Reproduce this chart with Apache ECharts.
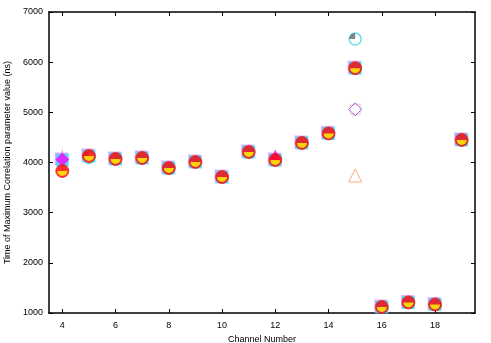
<!DOCTYPE html>
<html><head><meta charset="utf-8">
<script src="https://cdn.jsdelivr.net/npm/echarts@6/dist/echarts.min.js"></script>
<style>html,body{margin:0;padding:0;background:#fff}#c{width:491px;height:343px}</style>
</head><body><div id="c"></div>
<script>
// Data
const channels = [4,5,6,7,8,9,10,11,12,13,14,15,16,17,18,19];
const mainValues = [3830,4130,4070,4090,3890,4010,3710,4210,4050,4390,4580,5880,1120,1210,1170,4450];
const squareValues = [4050,4130,4070,4090,3890,4010,3710,4210,4050,4390,4580,5880,1120,1210,1170,4450];
const grayPoints = [[5,4100],[15,6460]];
const diamondPoints = [[4,4060]];
const trianglePoints = [[12,4140]];
const openDiamondPoints = [[15,5060]];
const openTrianglePoints = [[15,3740]];
const errorBars = [[4,3720,4250]];
const xTicks = [4,6,8,10,12,14,16,18];
const yTicks = [1000,2000,3000,4000,5000,6000,7000];

const pts = (vals) => channels.map((c,i)=>[c,vals[i]]);
const font = 'Liberation Sans';
const halfPath = 'path://M0,0 L20,0 A10,10 0 0 1 0,0 Z';
const quarterPath = 'path://M10,0 A10,10 0 0 0 0,10 L10,10 Z';

const chart = echarts.init(document.getElementById('c'), null, {renderer:'canvas'});
const axisLine = {show:true,onZero:false,lineStyle:{color:'#000',width:1.5}};
const tickStyle = {color:'#000',width:1};
chart.setOption({
  animation:false,
  grid:{left:49,right:16,top:12,bottom:30,containLabel:false,outerBoundsMode:'none'},
  xAxis:[
    {type:'value',min:3.5,max:19.5,position:'bottom',
      name:'Channel Number',nameLocation:'middle',nameGap:17,
      nameTextStyle:{fontFamily:font,fontSize:9,color:'#000'},
      axisLine:axisLine,splitLine:{show:false},
      axisLabel:{fontFamily:font,fontSize:9,color:'#000',margin:8,customValues:xTicks},
      axisTick:{show:true,inside:true,length:4,customValues:xTicks,lineStyle:tickStyle}},
    {type:'value',min:3.5,max:19.5,position:'top',
      axisLine:axisLine,axisLabel:{show:false},splitLine:{show:false},
      axisTick:{show:true,inside:true,length:4,customValues:xTicks,lineStyle:tickStyle}}
  ],
  yAxis:[
    {type:'value',min:1000,max:7000,position:'left',
      name:'Time of Maximum Correlation parameter value (ns)',nameLocation:'middle',nameGap:31,
      nameTextStyle:{fontFamily:font,fontSize:9,color:'#000'},
      axisLine:axisLine,splitLine:{show:false},
      axisLabel:{fontFamily:font,fontSize:9,color:'#000',margin:6,customValues:yTicks,formatter:v=>String(v)},
      axisTick:{show:true,inside:true,length:4,customValues:yTicks,lineStyle:tickStyle}},
    {type:'value',min:1000,max:7000,position:'right',
      axisLine:axisLine,axisLabel:{show:false},splitLine:{show:false},
      axisTick:{show:true,inside:true,length:4,customValues:yTicks,lineStyle:tickStyle}}
  ],
  series:[
    {type:'custom',renderItem:function(params,api){
        const p1=api.coord([api.value(0),api.value(1)]);
        const p2=api.coord([api.value(0),api.value(2)]);
        return {type:'line',shape:{x1:p1[0],y1:p1[1],x2:p2[0],y2:p2[1]},style:{stroke:'#ff88cc',lineWidth:1}};
      },data:errorBars,z:1},
    {type:'scatter',data:pts(squareValues),symbol:'rect',symbolSize:13,symbolOffset:[-1,-1],
      itemStyle:{color:'#ee99ff'},z:2},
    {type:'scatter',data:pts(squareValues),symbol:'rect',symbolSize:13,
      itemStyle:{color:'#33ddff'},z:3},
    {type:'scatter',data:grayPoints,symbol:'circle',symbolSize:12,
      itemStyle:{color:'#fff',borderColor:'#44d4dd',borderWidth:1.5},z:4},
    {type:'scatter',data:grayPoints,symbol:quarterPath,symbolSize:6,symbolOffset:[-3,-3],
      itemStyle:{color:'#666'},z:5},
    {type:'scatter',data:diamondPoints,symbol:'diamond',symbolSize:14,
      itemStyle:{color:'#ff00ff'},z:6},
    {type:'scatter',data:trianglePoints,symbol:'triangle',symbolSize:12,
      itemStyle:{color:'#ff00ff'},z:6},
    {type:'scatter',data:openDiamondPoints,symbol:'diamond',symbolSize:13,
      itemStyle:{color:'rgba(255,255,255,0)',borderColor:'#7744dd',borderWidth:1},z:6},
    {type:'scatter',data:openDiamondPoints,symbol:'rect',symbolSize:10,
      itemStyle:{color:'rgba(255,255,255,0)',borderColor:'#ffaaaa',borderWidth:0.8},z:5},
    {type:'scatter',data:openTrianglePoints,symbol:'triangle',symbolSize:13,
      itemStyle:{color:'rgba(255,255,255,0)',borderColor:'#ff9966',borderWidth:1},z:6},
    {type:'scatter',data:pts(mainValues),symbol:'circle',symbolSize:13,
      itemStyle:{color:'#ff0000',borderColor:'#ee2222',borderWidth:1},z:7},
    {type:'scatter',data:pts(mainValues),symbol:halfPath,symbolSize:[10,5],symbolOffset:[0,2.5],
      itemStyle:{color:'#ffff00'},z:8}
  ]
});
</script></body></html>
